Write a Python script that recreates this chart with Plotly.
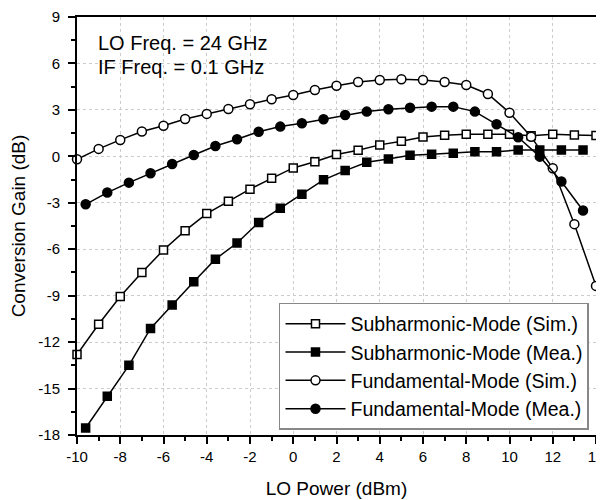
import plotly.graph_objects as go

x_sim = list(range(-10, 15))
x_mea = [-9.6 + i for i in range(24)]

sub_sim = [-12.8, -10.85, -9.05, -7.5, -6.05, -4.8, -3.7, -2.9, -2.12, -1.42, -0.75, -0.35, 0.12,
           0.39, 0.74, 0.97, 1.25, 1.36, 1.43, 1.43, 1.43, 1.33, 1.43, 1.38, 1.34]
sub_mea = [-17.55, -15.5, -13.5, -11.12, -9.6, -8.1, -6.64, -5.6, -4.27, -3.35, -2.45, -1.52,
           -0.92, -0.38, -0.17, 0.07, 0.14, 0.2, 0.3, 0.3, 0.41, 0.41, 0.41, 0.41]
fund_sim = [-0.19, 0.48, 1.06, 1.6, 1.98, 2.41, 2.74, 3.06, 3.36, 3.69, 3.96, 4.29, 4.56,
            4.8, 4.93, 4.98, 4.93, 4.8, 4.61, 4.03, 2.82, 1.27, -0.77, -4.38, -8.37]
fund_mea = [-3.1, -2.34, -1.7, -1.09, -0.49, 0.09, 0.67, 1.1, 1.59, 1.92, 2.14, 2.4,
            2.67, 2.89, 3.04, 3.14, 3.21, 3.21, 2.89, 2.07, 1.23, -0.02, -1.63, -3.5]

names = ["Subharmonic-Mode (Sim.)", "Subharmonic-Mode (Mea.)",
         "Fundamental-Mode (Sim.)", "Fundamental-Mode (Mea.)"]

x_ticks = [-10, -8, -6, -4, -2, 0, 2, 4, 6, 8, 10, 12, 14]
x_ticklabels = ["-10", "-8", "-6", "-4", "-2", "0", "2", "4", "6", "8", "10", "12", "14"]
y_ticks = [-18, -15, -12, -9, -6, -3, 0, 3, 6, 9]
y_ticklabels = ["-18", "-15", "-12", "-9", "-6", "-3", "0", "3", "6", "9"]
y_minor = [-16.5, -13.5, -10.5, -7.5, -4.5, -1.5, 1.5, 4.5, 7.5]

fig = go.Figure()
series = [
    (x_sim, sub_sim, "square", "white", 8),
    (x_mea, sub_mea, "square", "black", 8),
    (x_sim, fund_sim, "circle", "white", 9),
    (x_mea, fund_mea, "circle", "black", 9),
]
for name, (xs, ys, sym, fill, sz) in zip(names, series):
    fig.add_trace(go.Scatter(
        x=xs, y=ys, name=name, mode="lines+markers",
        line=dict(color="black", width=1.5),
        marker=dict(symbol=sym, size=sz, color=fill, line=dict(color="black", width=1.5)),
        cliponaxis=False,
    ))

FONT = "Arial, Liberation Sans, sans-serif"
fig.update_layout(
    width=604, height=500,
    margin=dict(l=69, r=16, t=9, b=73, autoexpand=False),
    paper_bgcolor="white", plot_bgcolor="white",
    font=dict(family=FONT, color="black", size=15),
    showlegend=True,
    legend=dict(
        x=0.9865, y=0.012, xanchor="right", yanchor="bottom",
        bgcolor="white", bordercolor="#888888", borderwidth=1.5,
        font=dict(size=19.5), tracegroupgap=0, itemwidth=60,
    ),
    annotations=[
        dict(text="LO Freq. = 24 GHz", x=0.036, y=0.938,
             xref="paper", yref="paper", xanchor="left", yanchor="middle",
             showarrow=False, align="left", font=dict(size=20)),
        dict(text="IF Freq. = 0.1 GHz", x=0.036, y=0.880,
             xref="paper", yref="paper", xanchor="left", yanchor="middle",
             showarrow=False, align="left", font=dict(size=20)),
    ],
)
fig.update_xaxes(
    range=[-10, 14], tickmode="array", tickvals=x_ticks, ticktext=x_ticklabels,
    showline=True, linecolor="black", linewidth=2, mirror=True,
    ticks="outside", ticklen=7, tickwidth=1.5, tickcolor="black",
    minor=dict(ticks="outside", ticklen=4, dtick=1, tickcolor="black", tickwidth=1.5),
    showgrid=True, gridcolor="#cccccc", griddash="dot", gridwidth=1,
    zeroline=False, ticklabeloverflow="allow",
    title=dict(text="LO Power (dBm)", font=dict(size=19), standoff=18),
    tickfont=dict(size=15),
)
fig.update_yaxes(
    range=[-18, 9], tickmode="array", tickvals=y_ticks, ticktext=y_ticklabels,
    showline=True, linecolor="black", linewidth=2, mirror=True,
    ticks="outside", ticklen=7, tickwidth=1.5, tickcolor="black",
    minor=dict(ticks="outside", ticklen=4, tickvals=y_minor, tickcolor="black", tickwidth=1.5),
    showgrid=True, gridcolor="#cccccc", griddash="dot", gridwidth=1,
    zeroline=False, ticklabelstandoff=5, ticklabeloverflow="allow",
    title=dict(text="Conversion Gain (dB)", font=dict(size=19), standoff=8),
    tickfont=dict(size=15),
)

fig.write_html("out.html")
